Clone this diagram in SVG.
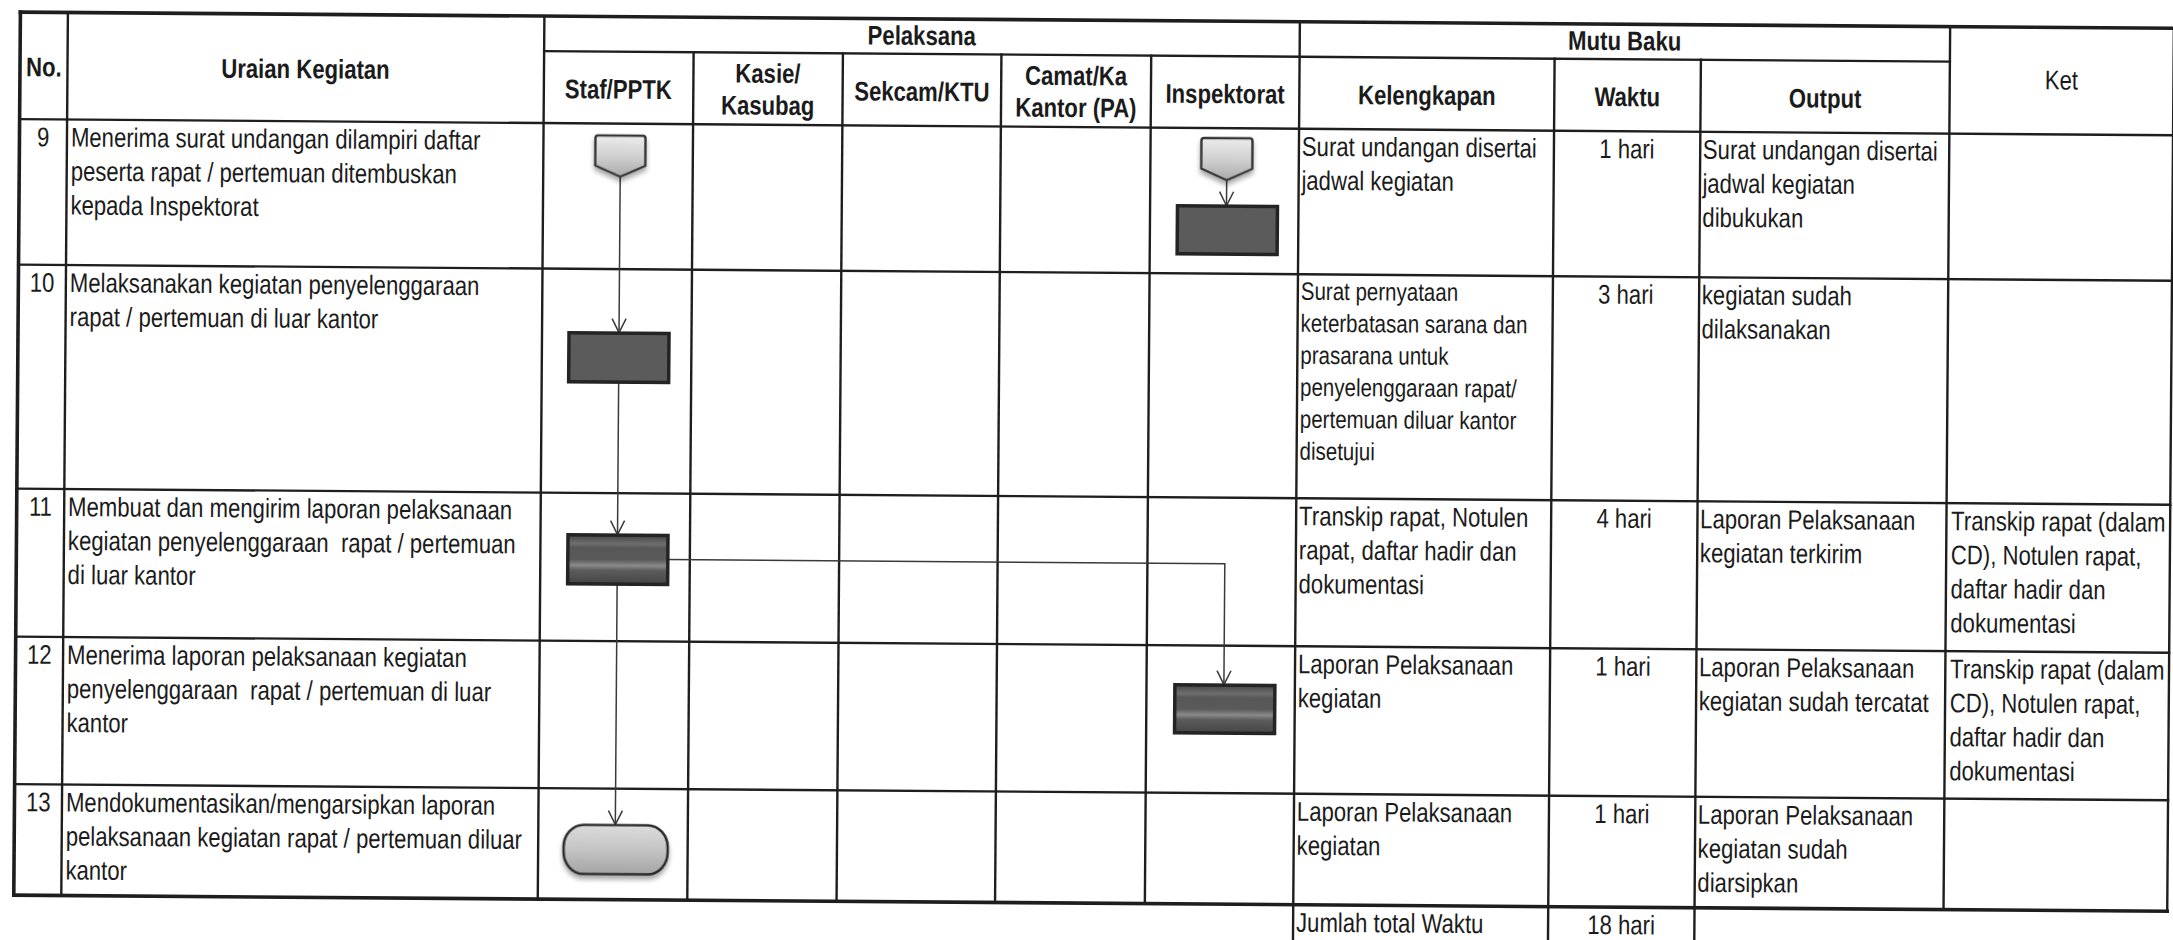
<svg xmlns="http://www.w3.org/2000/svg" width="2173" height="940" viewBox="0 0 2173 940">
  <style>
    text { font-family: 'Liberation Sans', Arial, sans-serif; font-size: 27px; fill: #1b1b1b;
           transform-box: fill-box; transform-origin: left center; transform: scaleX(0.82); }
    .h { font-weight: bold; text-anchor: middle; transform-origin: center; }
    .hr { text-anchor: middle; transform-origin: center; }
    .c { text-anchor: middle; transform-origin: center; }
    .sm { font-size: 25px; }
    .pre { white-space: pre; }
    .grid line { stroke: #1e1e1e; stroke-width: 2.4; stroke-linecap: square; }
    .grid line.o { stroke-width: 3.6; }
    .conn { fill: none; stroke: #3a3a3a; stroke-width: 1.5; }
    .offpage { fill: url(#gLight); stroke: #353535; stroke-width: 2.4; stroke-linejoin: round; }
    .task { fill: #5b5b5b; stroke: #242424; stroke-width: 3.5; }
    .banded { fill: url(#gBand); stroke: #242424; stroke-width: 3.5; }
    .term { fill: url(#gTerm); stroke: #2b2b2b; stroke-width: 2.6; }
  </style>
  <defs>
    <linearGradient id="gLight" x1="0" y1="0" x2="0" y2="1">
      <stop offset="0" stop-color="#ececec"/>
      <stop offset="0.55" stop-color="#cdcdcd"/>
      <stop offset="1" stop-color="#a9a9a9"/>
    </linearGradient>
    <linearGradient id="gTerm" x1="0" y1="0" x2="0" y2="1">
      <stop offset="0" stop-color="#dcdcdc"/>
      <stop offset="0.5" stop-color="#c4c4c4"/>
      <stop offset="1" stop-color="#a4a4a4"/>
    </linearGradient>
    <linearGradient id="gBand" x1="0" y1="0" x2="0" y2="1">
      <stop offset="0" stop-color="#474747"/>
      <stop offset="0.18" stop-color="#6e6e6e"/>
      <stop offset="0.26" stop-color="#575757"/>
      <stop offset="0.5" stop-color="#5a5a5a"/>
      <stop offset="0.62" stop-color="#8a8a8a"/>
      <stop offset="0.72" stop-color="#5c5c5c"/>
      <stop offset="1" stop-color="#454545"/>
    </linearGradient>
    <filter id="shadow" x="-20%" y="-20%" width="140%" height="160%">
      <feGaussianBlur in="SourceAlpha" stdDeviation="2.5"/>
      <feOffset dy="4" result="b"/>
      <feComponentTransfer><feFuncA type="linear" slope="0.35"/></feComponentTransfer>
      <feMerge><feMergeNode/><feMergeNode in="SourceGraphic"/></feMerge>
    </filter>
    <!-- open V arrowhead, tip at the end of the path -->
    <marker id="arrow" markerUnits="userSpaceOnUse" viewBox="0 0 16 16" refX="15" refY="8" markerWidth="16" markerHeight="16" orient="auto">
      <path d="M1,1 L15,8 L1,15" fill="none" stroke="#3a3a3a" stroke-width="1.5"/>
    </marker>
  </defs>

  <g transform="rotate(0.43)">
    <rect x="-20" y="-20" width="2240" height="1000" fill="#ffffff"/>

    <!-- table grid -->
    <g class="grid">
      <line class="o" x1="20.5" y1="12" x2="2174" y2="12"/>
      <line x1="544.5" y1="47" x2="1950.3" y2="47"/>
      <line x1="20.5" y1="119" x2="2174" y2="119"/>
      <line x1="20.5" y1="264.5" x2="2174" y2="264.5"/>
      <line x1="20.5" y1="488.5" x2="2174" y2="488.5"/>
      <line x1="20.5" y1="636.5" x2="2174" y2="636.5"/>
      <line x1="20.5" y1="784" x2="2174" y2="784"/>
      <line class="o" x1="20.5" y1="895" x2="2174" y2="895"/>

      <line class="o" x1="20.5" y1="12" x2="20.5" y2="895"/>
      <line x1="68" y1="12" x2="68" y2="895"/>
      <line x1="544.5" y1="12" x2="544.5" y2="895"/>
      <line x1="694" y1="47" x2="694" y2="895"/>
      <line x1="843.3" y1="47" x2="843.3" y2="895"/>
      <line x1="1001.8" y1="47" x2="1001.8" y2="895"/>
      <line x1="1151.6" y1="47" x2="1151.6" y2="895"/>
      <line x1="1300" y1="12" x2="1300" y2="960"/>
      <line x1="1555" y1="47" x2="1555" y2="960"/>
      <line x1="1701.3" y1="47" x2="1701.3" y2="960"/>
      <line x1="1950.3" y1="12" x2="1950.3" y2="895"/>
      <line x1="2174" y1="12" x2="2174" y2="895"/>
    </g>

    <!-- header labels -->
    <g id="header">
      <text class="h" x="44.5" y="76">No.</text>
      <text class="h" x="306" y="76">Uraian Kegiatan</text>
      <text class="h" x="922" y="38">Pelaksana</text>
      <text class="h" x="619" y="94">Staf/PPTK</text>
      <text class="h" x="768.5" y="77">Kasie/</text>
      <text class="h" x="768.5" y="109">Kasubag</text>
      <text class="h" x="922.5" y="94">Sekcam/KTU</text>
      <text class="h" x="1076.7" y="77">Camat/Ka</text>
      <text class="h" x="1076.7" y="109">Kantor (PA)</text>
      <text class="h" x="1225.8" y="94">Inspektorat</text>
      <text class="h" x="1625" y="38">Mutu Baku</text>
      <text class="h" x="1427.5" y="94">Kelengkapan</text>
      <text class="h" x="1628" y="94">Waktu</text>
      <text class="h" x="1825.8" y="94">Output</text>
      <text class="hr" x="2062" y="74">Ket</text>
    </g>

    <!-- step 9 -->
    <g id="row9">
      <text class="c" x="44.3" y="146">9</text>
      <text x="72" y="146">Menerima surat undangan dilampiri daftar</text>
      <text x="72" y="180">peserta rapat / pertemuan ditembuskan</text>
      <text x="72" y="214">kepada Inspektorat</text>
      <text x="1303" y="146">Surat undangan disertai</text>
      <text x="1303" y="180">jadwal kegiatan</text>
      <text class="c" x="1628" y="146">1 hari</text>
      <text x="1704" y="146">Surat undangan disertai</text>
      <text x="1704" y="180">jadwal kegiatan</text>
      <text x="1704" y="214">dibukukan</text>
    </g>

    <!-- step 10 -->
    <g id="row10">
      <text class="c" x="44.3" y="291.5">10</text>
      <text x="72" y="291.5">Melaksanakan kegiatan penyelenggaraan</text>
      <text x="72" y="325.5">rapat / pertemuan di luar kantor</text>
      <text class="sm" x="1303" y="290">Surat pernyataan</text>
      <text class="sm" x="1303" y="322">keterbatasan sarana dan</text>
      <text class="sm" x="1303" y="354">prasarana untuk</text>
      <text class="sm" x="1303" y="386">penyelenggaraan rapat/</text>
      <text class="sm" x="1303" y="418">pertemuan diluar kantor</text>
      <text class="sm" x="1303" y="450">disetujui</text>
      <text class="c" x="1628" y="291.5">3 hari</text>
      <text x="1704" y="291.5">kegiatan sudah</text>
      <text x="1704" y="325.5">dilaksanakan</text>
    </g>

    <!-- step 11 -->
    <g id="row11">
      <text class="c" x="44.3" y="515.5">11</text>
      <text x="72" y="515.5">Membuat dan mengirim laporan pelaksanaan</text>
      <text class="pre" x="72" y="549.5">kegiatan penyelenggaraan  rapat / pertemuan</text>
      <text x="72" y="583.5">di luar kantor</text>
      <text x="1303" y="515.5">Transkip rapat, Notulen</text>
      <text x="1303" y="549.5">rapat, daftar hadir dan</text>
      <text x="1303" y="583.5">dokumentasi</text>
      <text class="c" x="1628" y="515.5">4 hari</text>
      <text x="1704" y="515.5">Laporan Pelaksanaan</text>
      <text x="1704" y="549.5">kegiatan terkirim</text>
      <text x="1955" y="515.5">Transkip rapat (dalam</text>
      <text x="1955" y="549.5">CD), Notulen rapat,</text>
      <text x="1955" y="583.5">daftar hadir dan</text>
      <text x="1955" y="617.5">dokumentasi</text>
    </g>

    <!-- step 12 -->
    <g id="row12">
      <text class="c" x="44.3" y="663.5">12</text>
      <text x="72" y="663.5">Menerima laporan pelaksanaan kegiatan</text>
      <text class="pre" x="72" y="697.5">penyelenggaraan  rapat / pertemuan di luar</text>
      <text x="72" y="731.5">kantor</text>
      <text x="1303" y="663.5">Laporan Pelaksanaan</text>
      <text x="1303" y="697.5">kegiatan</text>
      <text class="c" x="1628" y="663.5">1 hari</text>
      <text x="1704" y="663.5">Laporan Pelaksanaan</text>
      <text x="1704" y="697.5">kegiatan sudah tercatat</text>
      <text x="1955" y="663.5">Transkip rapat (dalam</text>
      <text x="1955" y="697.5">CD), Notulen rapat,</text>
      <text x="1955" y="731.5">daftar hadir dan</text>
      <text x="1955" y="765.5">dokumentasi</text>
    </g>

    <!-- step 13 -->
    <g id="row13">
      <text class="c" x="44.3" y="811">13</text>
      <text x="72" y="811">Mendokumentasikan/mengarsipkan laporan</text>
      <text x="72" y="845">pelaksanaan kegiatan rapat / pertemuan diluar</text>
      <text x="72" y="879">kantor</text>
      <text x="1303" y="811">Laporan Pelaksanaan</text>
      <text x="1303" y="845">kegiatan</text>
      <text class="c" x="1628" y="811">1 hari</text>
      <text x="1704" y="811">Laporan Pelaksanaan</text>
      <text x="1704" y="845">kegiatan sudah</text>
      <text x="1704" y="879">diarsipkan</text>
    </g>

    <!-- total time -->
    <g id="total">
      <text x="1303" y="922">Jumlah total Waktu</text>
      <text class="c" x="1628" y="922">18 hari</text>
    </g>

    <!-- connectors -->
    <g id="connectors" class="conn">
      <path d="M621.5,172 V328" marker-end="url(#arrow)"/>
      <path d="M621.5,378 V530" marker-end="url(#arrow)"/>
      <path d="M621.5,580 V820" marker-end="url(#arrow)"/>
      <path d="M672,554.5 H1229 V675.5" marker-end="url(#arrow)"/>
      <path d="M1228,171 V196.5" marker-end="url(#arrow)"/>
    </g>

    <!-- flow symbols -->
    <g id="n9-staf-in" filter="url(#shadow)">
      <path class="offpage" d="M599,131 H644 Q646.5,131 646.5,133.5 V161 L621.5,172 L596.5,161 V133.5 Q596.5,131 599,131 Z"/>
    </g>
    <g id="n9-insp-in" filter="url(#shadow)">
      <path class="offpage" d="M1205,129 H1251 Q1253.5,129 1253.5,131.5 V159.5 L1228,171 L1202.5,159.5 V131.5 Q1202.5,129 1205,129 Z"/>
    </g>
    <g id="n9-insp-act">
      <rect class="task" x="1179" y="197" width="100" height="48"/>
    </g>
    <g id="n10-staf-act">
      <rect class="task" x="571.5" y="328.5" width="100" height="49"/>
    </g>
    <g id="n11-staf-act">
      <rect class="banded" x="572" y="530.5" width="100" height="49"/>
    </g>
    <g id="n12-insp-act">
      <rect class="banded" x="1180" y="676" width="100" height="48"/>
    </g>
    <g id="n13-staf-end" filter="url(#shadow)">
      <rect class="term" x="570" y="820.5" width="104" height="49" rx="20" ry="22"/>
    </g>
  </g>
</svg>
